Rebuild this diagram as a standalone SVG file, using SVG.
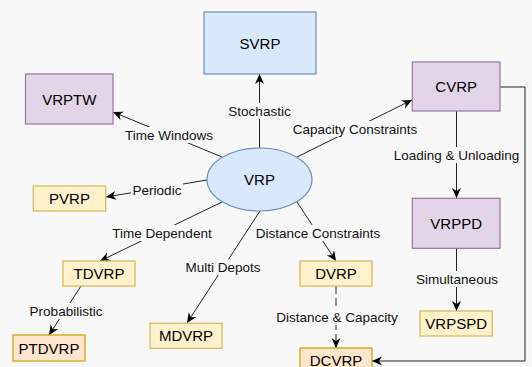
<svg xmlns="http://www.w3.org/2000/svg" width="532" height="367" viewBox="0 0 532 367">
<defs>
<marker id="arr" markerUnits="userSpaceOnUse" markerWidth="12" markerHeight="10" refX="10" refY="4.5" orient="auto">
<path d="M0,0 L10,4.5 L0,9 L3,4.5 Z" fill="#000"/>
</marker>
<style>
.blue{fill:#dae8fc;stroke:#6c8ebf;stroke-width:1.2}
.purple{fill:#e1d5e7;stroke:#9673a6;stroke-width:1.2}
.yellow{fill:#fff2cc;stroke:#d6b656;stroke-width:1.2}
.orange{fill:#ffe6cc;stroke:#d79b00;stroke-width:1.2}
.nt{font-family:"Liberation Sans",Arial,sans-serif;font-size:15px;fill:#000;text-anchor:middle;dominant-baseline:central}
.e{fill:none;stroke:#222;stroke-width:1;marker-end:url(#arr)}
.lb{fill:#f8f8f8}
.lt{font-family:"Liberation Sans",Arial,sans-serif;font-size:13.5px;fill:#111;text-anchor:middle;dominant-baseline:central}
</style>
</defs>
<rect x="0" y="0" width="532" height="367" fill="#f8f8f8"/>
<g id="connectors">
<path class="e" d="M259.5,148 L259.5,74"/>
<path class="e" d="M222,157 L113,112"/>
<path class="e" d="M297,157 L412,100"/>
<path class="e" d="M207,180 L106,197"/>
<path class="e" d="M222,202 L100,261"/>
<path class="e" d="M260,211 L187,323"/>
<path class="e" d="M297,202 L336,261"/>
<path class="e" d="M81,286 L49,335"/>
<path class="e" d="M336,286 L336,348" stroke-dasharray="8,4"/>
<path class="e" d="M456.5,111 L456.5,198"/>
<path class="e" d="M456.5,248 L456.5,311"/>
<path class="e" d="M500,87 L525,87 L525,361 L372,361"/>
<rect class="lb" x="226.5" y="103" width="66" height="16"/>
<text class="lt" x="259.5" y="111">Stochastic</text>
<rect class="lb" x="123" y="127" width="92" height="16"/>
<text class="lt" x="169" y="135">Time Windows</text>
<rect class="lb" x="291" y="121" width="128" height="16"/>
<text class="lt" x="355" y="129">Capacity Constraints</text>
<rect class="lb" x="131" y="182" width="52" height="16"/>
<text class="lt" x="157" y="190">Periodic</text>
<rect class="lb" x="110" y="225" width="104" height="16"/>
<text class="lt" x="162" y="233">Time Dependent</text>
<rect class="lb" x="183.5" y="259" width="79" height="16"/>
<text class="lt" x="223" y="267">Multi Depots</text>
<rect class="lb" x="254" y="225" width="128" height="16"/>
<text class="lt" x="318" y="233">Distance Constraints</text>
<rect class="lb" x="28" y="303" width="76" height="16"/>
<text class="lt" x="66" y="311">Probabilistic</text>
<rect class="lb" x="274.5" y="309" width="125" height="16"/>
<text class="lt" x="337" y="317">Distance &amp; Capacity</text>
<rect class="lb" x="392" y="147" width="129" height="16"/>
<text class="lt" x="456.5" y="155">Loading &amp; Unloading</text>
<rect class="lb" x="414.5" y="271" width="85" height="16"/>
<text class="lt" x="457" y="279">Simultaneous</text>
</g>
<g id="SVRP"><rect class="blue" x="204" y="12" width="112" height="62"/><text class="nt" x="260" y="43">SVRP</text></g>
<g id="VRPTW"><rect class="purple" x="25.5" y="74" width="87.5" height="50"/><text class="nt" x="69.3" y="99">VRPTW</text></g>
<g id="CVRP"><rect class="purple" x="412.3" y="62" width="87.7" height="49"/><text class="nt" x="456.2" y="86.5">CVRP</text></g>
<g id="VRP"><ellipse class="blue" cx="259.5" cy="179.5" rx="52.5" ry="31.5"/><text class="nt" x="259.5" y="179.5">VRP</text></g>
<g id="PVRP"><rect class="yellow" x="33.3" y="186" width="72.4" height="25"/><text class="nt" x="69.5" y="198.5">PVRP</text></g>
<g id="TDVRP"><rect class="yellow" x="63" y="261" width="72" height="25"/><text class="nt" x="99" y="273.5">TDVRP</text></g>
<g id="PTDVRP"><rect class="orange" x="13" y="335" width="72" height="26"/><text class="nt" x="49" y="348">PTDVRP</text></g>
<g id="MDVRP"><rect class="yellow" x="150" y="323.3" width="72" height="25"/><text class="nt" x="186" y="335.8">MDVRP</text></g>
<g id="DVRP"><rect class="yellow" x="300" y="261" width="72" height="25"/><text class="nt" x="336" y="273.5">DVRP</text></g>
<g id="DCVRP"><rect class="orange" x="300" y="348" width="72" height="25"/><text class="nt" x="336" y="360.5">DCVRP</text></g>
<g id="VRPPD"><rect class="purple" x="412.3" y="198.3" width="87.7" height="50"/><text class="nt" x="456.2" y="223.3">VRPPD</text></g>
<g id="VRPSPD"><rect class="yellow" x="420" y="311" width="72.3" height="25"/><text class="nt" x="456.2" y="323.5">VRPSPD</text></g>
</svg>
